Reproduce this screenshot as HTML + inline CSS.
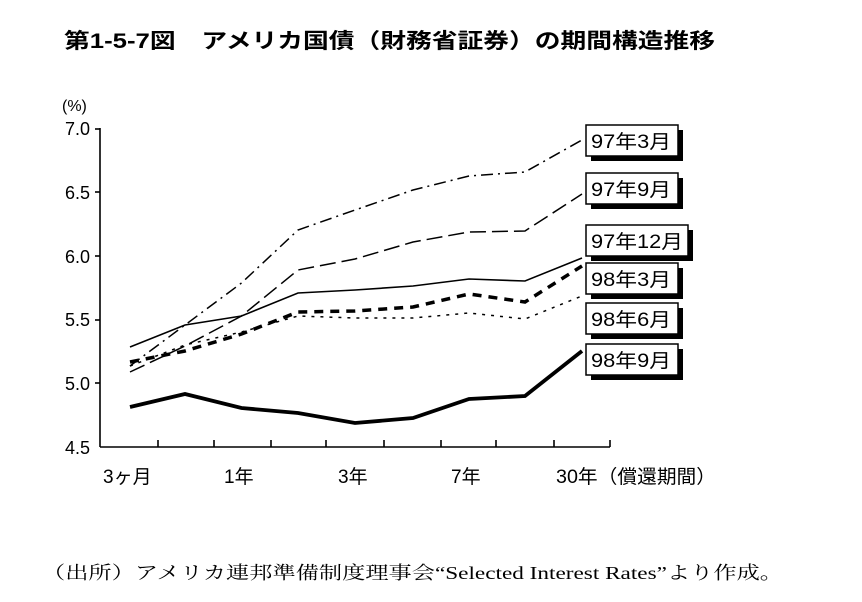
<!DOCTYPE html>
<html><head><meta charset="utf-8"><style>
body{margin:0;background:#fff;}
svg{display:block;}
text{font-family:"Liberation Sans","Noto Sans CJK JP",sans-serif;}
</style></head><body>
<svg width="862" height="602" viewBox="0 0 862 602" xmlns="http://www.w3.org/2000/svg">
<text x="64" y="48" font-size="21" font-weight="bold" fill="#000" textLength="651" lengthAdjust="spacingAndGlyphs">第1-5-7図　アメリカ国債（財務省証券）の期間構造推移</text>
<text x="62" y="111" font-size="16" fill="#000">(%)</text>
<g font-size="18" fill="#000" text-anchor="end">
<text x="90" y="135">7.0</text>
<text x="90" y="199">6.5</text>
<text x="90" y="263">6.0</text>
<text x="90" y="326">5.5</text>
<text x="90" y="390">5.0</text>
<text x="90" y="454">4.5</text>
</g>
<g stroke="#000" stroke-width="1.6" fill="none">
<line x1="100" y1="128" x2="100" y2="447"/>
<line x1="100" y1="447" x2="610" y2="447"/>
<line x1="95" y1="129" x2="100" y2="129"/>
<line x1="95" y1="192" x2="100" y2="192"/>
<line x1="95" y1="256" x2="100" y2="256"/>
<line x1="95" y1="320" x2="100" y2="320"/>
<line x1="95" y1="383" x2="100" y2="383"/>
<line x1="158" y1="440" x2="158" y2="447"/>
<line x1="214" y1="440" x2="214" y2="447"/>
<line x1="271" y1="440" x2="271" y2="447"/>
<line x1="326" y1="440" x2="326" y2="447"/>
<line x1="384" y1="440" x2="384" y2="447"/>
<line x1="441" y1="440" x2="441" y2="447"/>
<line x1="496" y1="440" x2="496" y2="447"/>
<line x1="554" y1="440" x2="554" y2="447"/>
<line x1="610" y1="440" x2="610" y2="447"/>
</g>
<g font-size="19" fill="#000">
<text x="103" y="483">3ヶ月</text>
<text x="224" y="483">1年</text>
<text x="338" y="483">3年</text>
<text x="451" y="483">7年</text>
<text x="556" y="483" textLength="160" lengthAdjust="spacingAndGlyphs">30年（償還期間）</text>
</g>
<g fill="none" stroke="#000">
<polyline stroke-width="1.5" stroke-dasharray="12,5,2,5" points="130,366 185,325 241.5,283 298,230 355,210 413,190 469,176 525,172 582,140"/>
<polyline stroke-width="1.5" stroke-dasharray="16,6" points="130,372 185,346 241.5,316 298,270 355,259 413,242 469,232 525,231 582,194"/>
<polyline stroke-width="1.6" points="130,347 185,325 241.5,316 298,293 355,290 413,286 469,279 525,281 582,258"/>
<polyline stroke-width="3.5" stroke-dasharray="9,7" points="130,362 185,351 241.5,334 298,312 355,311 413,307 469,294 525,302 582,266"/>
<polyline stroke-width="1.5" stroke-dasharray="3,6" points="130,366 185,345 241.5,332 298,316 355,318 413,318 469,313 525,319 582,296"/>
<polyline stroke-width="3.8" points="130,407 185,394 241.5,408 298,413 355,423 413,418 469,399 525,396 582,351"/>
</g>
<g font-size="19" fill="#000">
<rect x="591" y="130" width="92" height="31" fill="#000"/><rect x="586" y="125" width="92" height="31" fill="#fff" stroke="#000" stroke-width="1.5"/><text x="591" y="148" textLength="80" lengthAdjust="spacingAndGlyphs">97年3月</text>
<rect x="591" y="178" width="92" height="31" fill="#000"/><rect x="586" y="173" width="92" height="31" fill="#fff" stroke="#000" stroke-width="1.5"/><text x="591" y="196" textLength="80" lengthAdjust="spacingAndGlyphs">97年9月</text>
<rect x="591" y="230" width="102" height="31" fill="#000"/><rect x="586" y="225" width="102" height="31" fill="#fff" stroke="#000" stroke-width="1.5"/><text x="591" y="248" textLength="92" lengthAdjust="spacingAndGlyphs">97年12月</text>
<rect x="591" y="268" width="92" height="31" fill="#000"/><rect x="586" y="263" width="92" height="31" fill="#fff" stroke="#000" stroke-width="1.5"/><text x="591" y="286" textLength="80" lengthAdjust="spacingAndGlyphs">98年3月</text>
<rect x="591" y="308" width="92" height="31" fill="#000"/><rect x="586" y="303" width="92" height="31" fill="#fff" stroke="#000" stroke-width="1.5"/><text x="591" y="326" textLength="80" lengthAdjust="spacingAndGlyphs">98年6月</text>
<rect x="591" y="349" width="92" height="31" fill="#000"/><rect x="586" y="344" width="92" height="31" fill="#fff" stroke="#000" stroke-width="1.5"/><text x="591" y="367" textLength="80" lengthAdjust="spacingAndGlyphs">98年9月</text>
</g>
<text x="42" y="579" font-size="18" fill="#000" textLength="741" lengthAdjust="spacingAndGlyphs" style="font-family:'Liberation Serif','Noto Serif CJK SC',serif">（出所）アメリカ連邦準備制度理事会“Selected Interest Rates”より作成。</text>
</svg>
</body></html>
